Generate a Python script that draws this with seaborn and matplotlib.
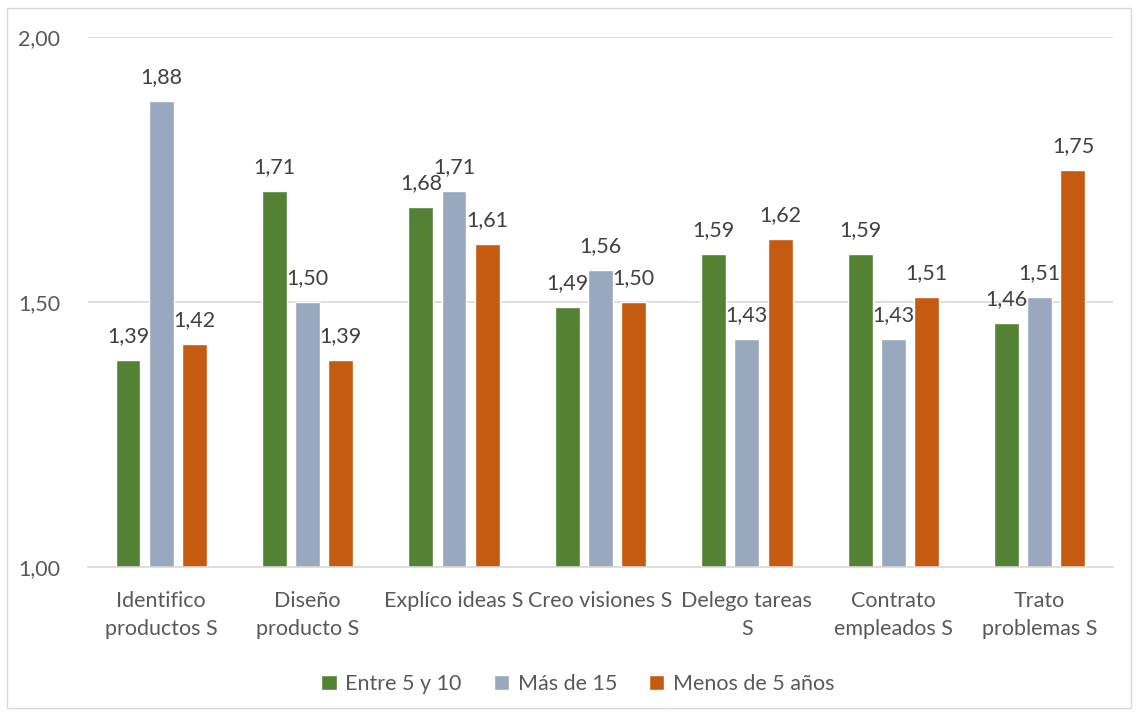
import matplotlib
matplotlib.use("Agg")
import matplotlib.pyplot as plt
import matplotlib.patches as mpatches
import seaborn as sns
import pandas as pd

categories = ["Identifico\nproductos S", "Diseño\nproducto S", "Explíco ideas S",
              "Creo visiones S", "Delego tareas\nS", "Contrato\nempleados S",
              "Trato\nproblemas S"]
series_names = ["Entre 5 y 10", "Más de 15", "Menos de 5 años"]
entre_5_10 = [1.39, 1.71, 1.68, 1.49, 1.59, 1.59, 1.46]
mas_15 = [1.88, 1.50, 1.71, 1.56, 1.43, 1.43, 1.51]
menos_5 = [1.42, 1.39, 1.61, 1.50, 1.62, 1.51, 1.75]
colors = ["#548235", "#97A8BF", "#C55A11"]
y_ticks = [1.0, 1.5, 2.0]

sns.set_theme(style="white")
plt.rcParams["font.family"] = ["Lato", "DejaVu Sans"]

rows = []
for name, vals in zip(series_names, [entre_5_10, mas_15, menos_5]):
    for c, v in zip(categories, vals):
        rows.append({"cat": c, "serie": name, "valor": v})
df = pd.DataFrame(rows)

fig = plt.figure(figsize=(11.38, 7.15), dpi=100)
ax = fig.add_axes([0.0773, 0.207, 0.9007, 0.741])

sns.barplot(data=df, x="cat", y="valor", hue="serie", hue_order=series_names,
            order=categories, palette=colors, width=0.68, gap=0.25,
            saturation=1, ax=ax, legend=True)

ax.set_ylim(1.0, 2.0)
ax.set_yticks(y_ticks)
ax.set_yticklabels([f"{t:.2f}".replace(".", ",") for t in y_ticks])
ax.set_xlim(-0.5, len(categories) - 0.5)
ax.set_xlabel("")
ax.set_ylabel("")
ax.tick_params(axis="both", length=0, labelsize=15.5, colors="#595959")
ax.tick_params(axis="x", pad=17)
ax.tick_params(axis="y", pad=20)
for t in ax.get_xticklabels():
    t.set_linespacing(1.5)
ax.yaxis.grid(True, color="#D9D9D9", linewidth=1.2)
ax.set_axisbelow(True)
for s in ["top", "right", "left"]:
    ax.spines[s].set_visible(False)
ax.spines["bottom"].set_color("#D9D9D9")
ax.spines["bottom"].set_linewidth(1.2)

for cont in ax.containers:
    labs = [f"{b.get_height():.2f}".replace(".", ",") for b in cont]
    ax.bar_label(cont, labels=labs, padding=10, fontsize=15.5, color="#404040")

leg = ax.legend(loc="upper center", bbox_to_anchor=(0.478, -0.165), ncol=3,
                frameon=False, fontsize=15.5, handlelength=0.7, handleheight=0.7,
                columnspacing=1.5, handletextpad=0.4)
for t in leg.get_texts():
    t.set_color("#595959")

fig.patches.append(mpatches.Rectangle((7 / 1138, 1 - 708 / 715), 1124 / 1138, 700 / 715,
                                      transform=fig.transFigure, fill=False,
                                      edgecolor="#D9D9D9", linewidth=1))

fig.savefig("out.png", dpi=100)
